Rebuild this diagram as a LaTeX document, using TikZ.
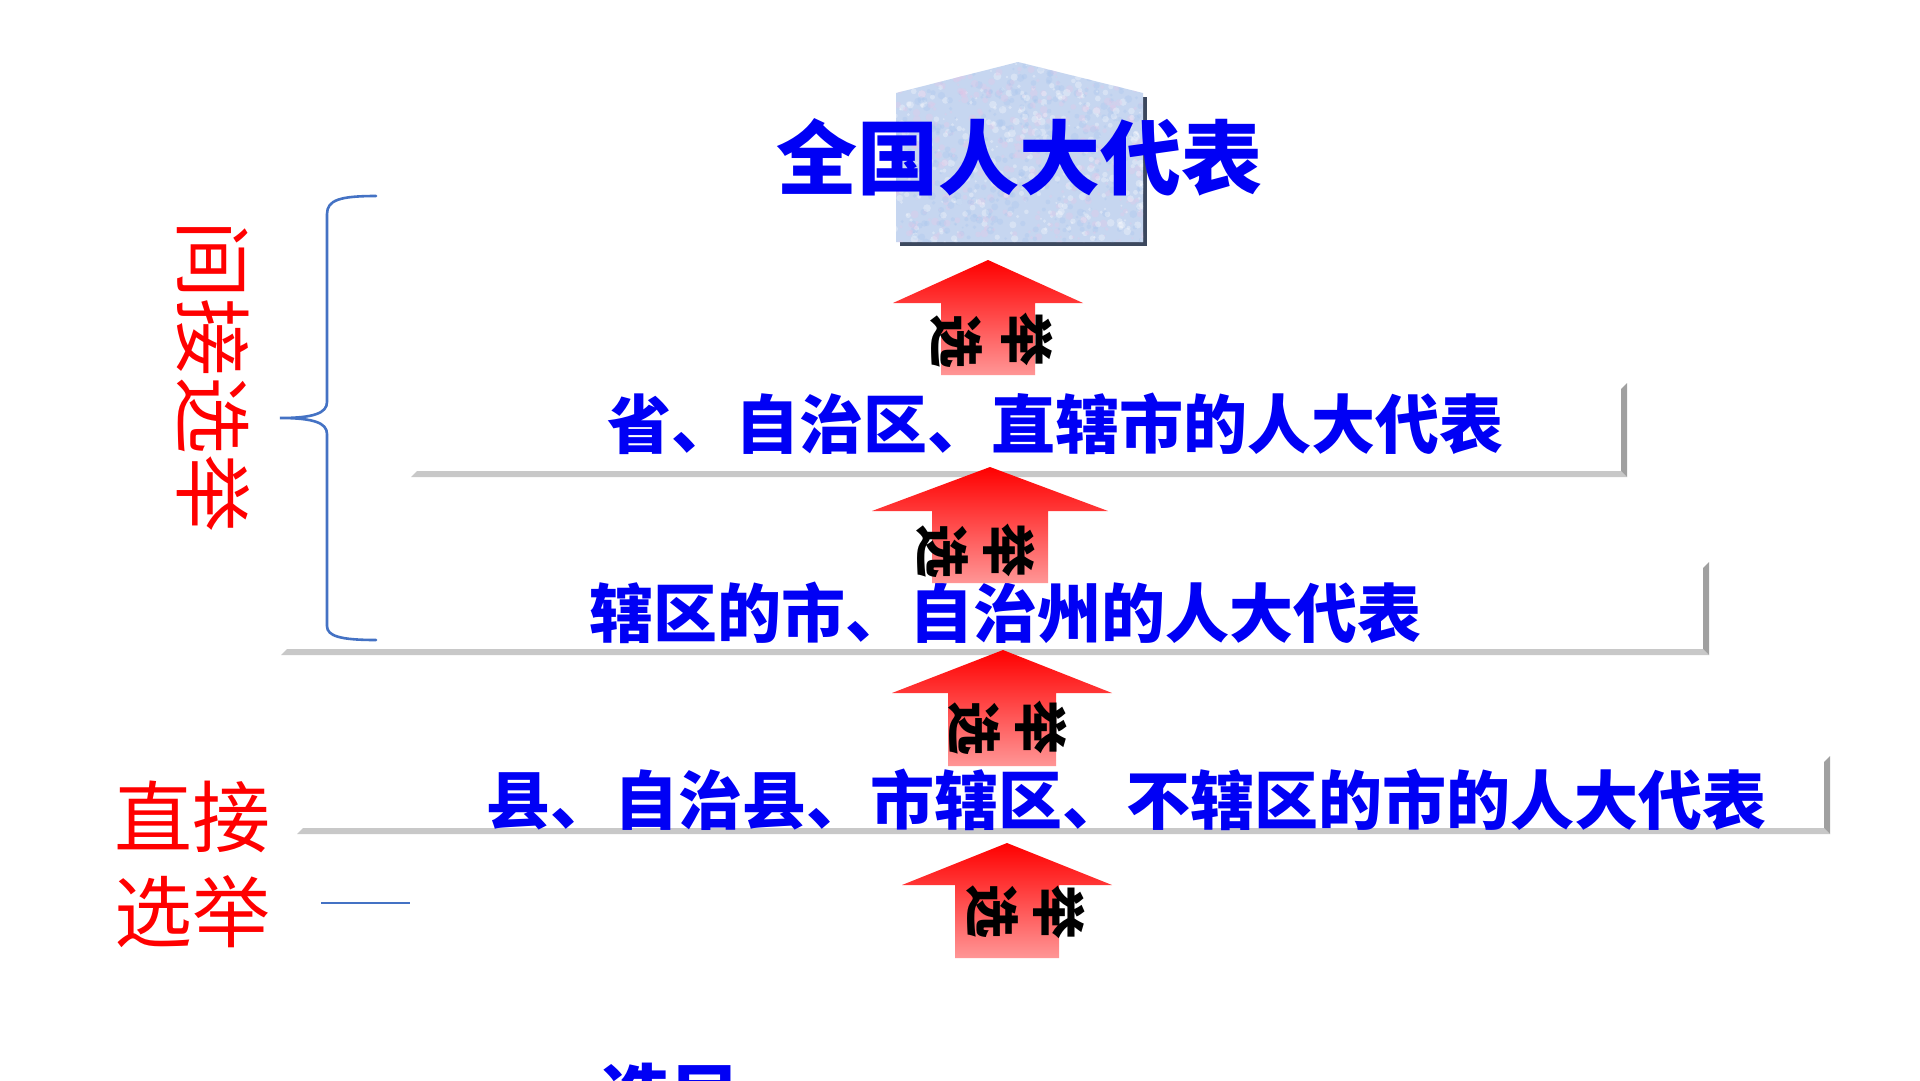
\documentclass[tikz,border=0pt]{standalone}
\usepackage{fontspec}
\newfontfamily\cjk{Noto Sans CJK SC}
\definecolor{blueT}{RGB}{0,0,245}
\definecolor{redT}{RGB}{255,0,0}
\definecolor{braceC}{RGB}{68,114,196}
\definecolor{hbarC}{RGB}{200,200,200}
\definecolor{vbarC}{RGB}{160,160,160}
\definecolor{houseC}{RGB}{198,214,240}
\definecolor{houseSh}{RGB}{60,72,94}
\definecolor{pinkA}{RGB}{255,150,150}
\begin{document}
\begin{tikzpicture}[x=1pt,y=-1pt,
  rowtxt/.style={text=blueT,inner sep=0pt,font=\cjk\bfseries\fontsize{64}{64}\selectfont},
  titletxt/.style={text=blueT,inner sep=0pt,font=\cjk\bfseries\fontsize{81}{81}\selectfont},
  redtxt/.style={text=redT,inner sep=0pt,font=\cjk\fontsize{78}{78}\selectfont},
  arrtxt/.style={text=black,inner sep=0pt,rotate=-90,font=\cjk\bfseries\fontsize{54}{54}\selectfont},
  uparr/.style={top color=redT,bottom color=pinkA,draw=none},
  hbar/.style={fill=hbarC},
  vbar/.style={fill=vbarC},
  bracestyle/.style={draw=braceC,line width=2.6pt,line cap=round}]
\useasboundingbox (0,0) rectangle (1920,1080);
\clip (0,0) rectangle (1920,1080);
\fill[white] (0,0) rectangle (1920,1080);

% house shape behind title
\fill[houseSh] (900,97) -- (1147,97) -- (1147,246) -- (900,246) -- cycle;
\begin{scope}
\clip (896,93) -- (1018,62) -- (1143,93) -- (1143,242) -- (896,242) -- cycle;
\fill[houseC] (880,50) rectangle (1160,250);
\pgfmathsetseed{11}
\foreach \i in {1,...,1400}{
  \pgfmathsetmacro{\px}{880+rnd*280}
  \pgfmathsetmacro{\py}{55+rnd*195}
  \pgfmathsetmacro{\rr}{1+rnd*3}
  \pgfmathtruncatemacro{\kk}{mod(\i,3)}
  \ifnum\kk=0 \fill[color={rgb,255:red,228;green,200;blue,232},opacity=0.35] (\px,\py) circle[radius=\rr pt];
  \else\ifnum\kk=1 \fill[color={rgb,255:red,170;green,198;blue,238},opacity=0.35] (\px,\py) circle[radius=\rr pt];
  \else \fill[color=white,opacity=0.3] (\px,\py) circle[radius=\rr pt];\fi\fi
}
\end{scope}
\node[titletxt] (title) at (1019.5,157) {全国人大代表};

% row 1
\fill[hbar] (411,477) -- (417,471) -- (1621,471) -- (1627,477) -- cycle;
\fill[vbar] (1621,389) -- (1627,383) -- (1627,477) -- (1621,471) -- cycle;
\node[rowtxt] (r1) at (1055,424) {省、自治区、直辖市的人大代表};

% row 2
\fill[hbar] (281,655) -- (287,649) -- (1703,649) -- (1709,655) -- cycle;
\fill[vbar] (1703,568) -- (1709,562) -- (1709,655) -- (1703,649) -- cycle;
\node[rowtxt] (r2) at (1005.5,613) {辖区的市、自治州的人大代表};

% row 3
\fill[hbar] (297,834) -- (303,828) -- (1824,828) -- (1830,834) -- cycle;
\fill[vbar] (1824,762) -- (1830,756) -- (1830,834) -- (1824,828) -- cycle;
\node[rowtxt] (r3) at (1126,800) {县、自治县、市辖区、不辖区的市的人大代表};

% voters (cut off at bottom, as in the reference)
\node[rowtxt,font=\cjk\bfseries\fontsize{70}{70}\selectfont] (voters) at (671,1097) {选民};

% arrows
\path[uparr] (988,260) -- (1083,303) -- (1035,303) -- (1035,375) -- (941,375) -- (941,303) -- (893,303) -- cycle;
\node[arrtxt] (a1x) at (956,341) {选};
\node[arrtxt] (a1j) at (1027,339) {举};

\path[uparr] (990,467) -- (1108,511) -- (1048,511) -- (1048,583) -- (932,583) -- (932,511) -- (872,511) -- cycle;
\node[arrtxt] (a2x) at (942,551) {选};
\node[arrtxt] (a2j) at (1009,550) {举};

\path[uparr] (1003,650) -- (1112,693) -- (1056,693) -- (1056,766) -- (948,766) -- (948,693) -- (892,693) -- cycle;
\node[arrtxt] (a3x) at (974,728) {选};
\node[arrtxt] (a3j) at (1041,727) {举};

\path[uparr] (1007,843) -- (1112,885) -- (1059,885) -- (1059,958) -- (955,958) -- (955,885) -- (902,885) -- cycle;
\node[arrtxt] (a4x) at (992,911) {选};
\node[arrtxt] (a4j) at (1059,912) {举};

% indirect election label + brace
\node[redtxt,rotate=-90] (indirect) at (213,376) {间接选举};
\coordinate (bTop) at (376,196);
\coordinate (bTip) at (280,418);
\coordinate (bBot) at (376,640);
\draw[bracestyle] (bTop) .. controls (340,196) and (327,200) .. (327,214) -- (327,402)
  .. controls (327,413) and (314,418) .. (bTip)
  .. controls (314,418) and (327,423) .. (327,434) -- (327,626)
  .. controls (327,636) and (340,640) .. (bBot);

% direct election label + line
\node[redtxt] (direct1) at (192.5,816.5) {直接};
\node[redtxt] (direct2) at (192.5,912) {选举};
\coordinate (dL) at (321,903);
\coordinate (dR) at (410,903);
\draw[draw=braceC,line width=2.6pt] (dL) -- (dR);
\end{tikzpicture}
\end{document}
